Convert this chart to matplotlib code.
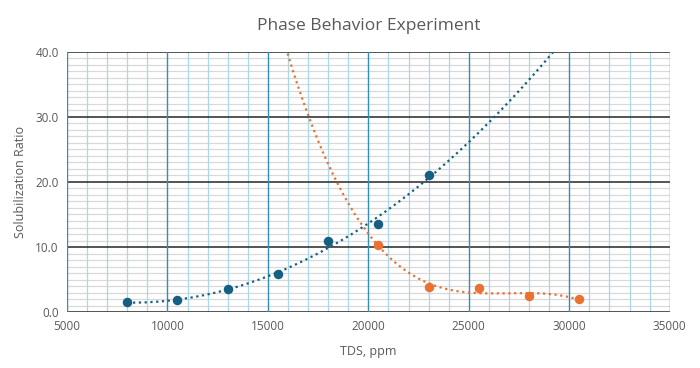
import numpy as np
import matplotlib
matplotlib.use("Agg")
import matplotlib.pyplot as plt
from matplotlib.ticker import MultipleLocator, FormatStrFormatter

# data
tds_a = [8000, 10500, 13000, 15500, 18000, 20500, 23000]
ratio_a = [1.5, 1.8, 3.5, 5.8, 11.0, 13.5, 21.0]
tds_b = [20500, 23000, 25500, 28000, 30500]
ratio_b = [10.3, 3.9, 3.7, 2.4, 2.0]

blue = "#156082"
orange = "#E97132"
grey_txt = "#595959"

plt.rcParams['font.family'] = ['Open Sans', 'DejaVu Sans']

fig = plt.figure(figsize=(7, 3.68), dpi=100)
ax = fig.add_axes([0.0957, 0.152, 0.861, 0.707])

ax.set_xlim(5000, 35000)
ax.set_ylim(0, 40)
ax.xaxis.set_major_locator(MultipleLocator(5000))
ax.xaxis.set_minor_locator(MultipleLocator(1000))
ax.yaxis.set_major_locator(MultipleLocator(10))
ax.yaxis.set_minor_locator(MultipleLocator(1))
ax.yaxis.set_major_formatter(FormatStrFormatter('%.1f'))

# gridlines drawn by hand so the layering matches (horizontal under vertical)
for y in ax.yaxis.get_minorticklocs():
    ax.axhline(y, color='#d9d9d9', lw=0.9, zorder=0.1)
for x in ax.xaxis.get_minorticklocs():
    ax.axvline(x, color='#a9d8ea', lw=0.9, zorder=0.2)
for y in ax.get_yticks():
    ax.axhline(y, color='#262626', lw=1.1, zorder=0.3)
for x in ax.get_xticks()[1:]:
    ax.axvline(x, color='#2f8fb5', lw=1.0, zorder=0.4)

# trendlines (polynomial fits)
pa = np.polyfit(tds_a, ratio_a, 2)
xa = np.linspace(tds_a[0], 31000, 300)
ax.plot(xa, np.polyval(pa, xa), ls=(0, (1, 1.6)), lw=1.6, color=blue, zorder=3)

pb = np.polyfit(tds_b, ratio_b, 3)
xb = np.linspace(15500, tds_b[-1], 300)
ax.plot(xb, np.polyval(pb, xb), ls=(0, (1, 1.6)), lw=1.6, color=orange, zorder=3)

ax.scatter(tds_a, ratio_a, s=34, color=blue, zorder=4)
ax.scatter(tds_b, ratio_b, s=34, color=orange, zorder=4)

ax.set_xlim(5000, 35000)
ax.set_ylim(0, 40)

for s in ax.spines.values():
    s.set_visible(False)

ax.tick_params(which='both', length=0, labelsize=8.5, labelcolor=grey_txt, pad=6)
ax.set_xlabel('TDS, ppm', fontsize=9, color=grey_txt, labelpad=8)
ax.set_ylabel('Solubilization Ratio', fontsize=9, color=grey_txt, labelpad=6)
ax.set_title('Phase Behavior Experiment', fontsize=12.5, color=grey_txt, pad=16)

fig.savefig('out.png', dpi=100)
